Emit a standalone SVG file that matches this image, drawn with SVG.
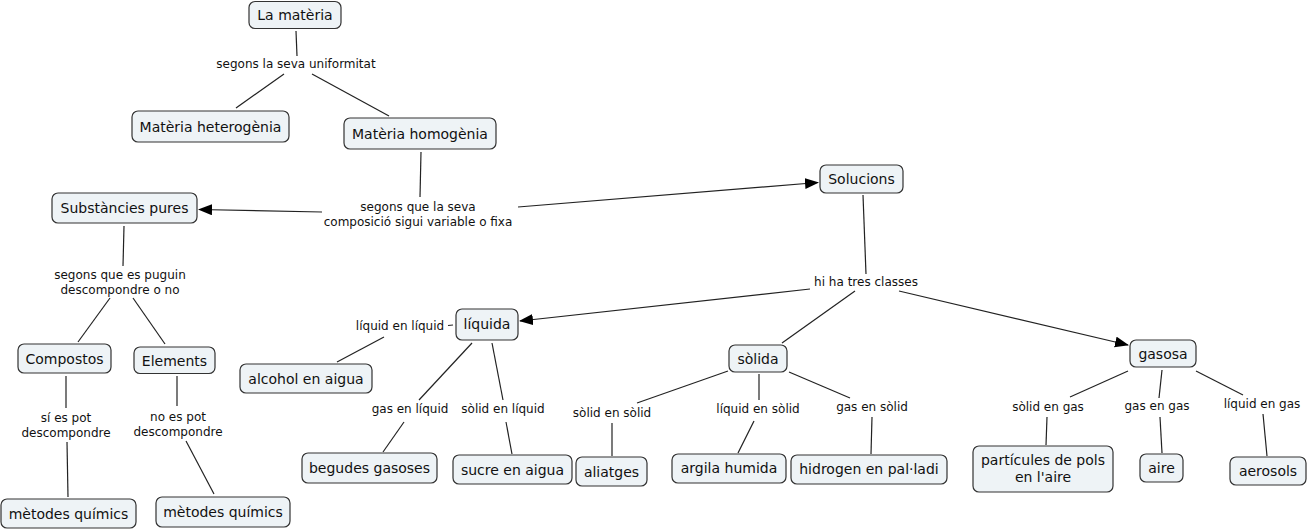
<svg xmlns="http://www.w3.org/2000/svg" width="1307" height="532" viewBox="0 0 1307 532">
<style>
.n rect{fill:#eef3f6;stroke:#333;stroke-width:1.2}
.n text{font-family:"DejaVu Sans",Verdana,sans-serif;font-size:14px;fill:#111;text-anchor:middle}
.l{font-family:"DejaVu Sans",Verdana,sans-serif;font-size:12px;fill:#111;text-anchor:middle}
#connectors line{stroke:#222;stroke-width:1.2}
</style>
<defs>
<marker id="ah" markerUnits="userSpaceOnUse" markerWidth="14" markerHeight="12" refX="13" refY="5.5" orient="auto">
<path d="M0,0 L14,5.5 L0,11 z" fill="#000"/>
</marker>
</defs>
<rect width="1307" height="532" fill="#fff"/>
<g id="connectors">
<line x1="296" y1="31" x2="297" y2="56"/>
<line x1="284" y1="74" x2="236" y2="108"/>
<line x1="312" y1="74" x2="389" y2="116"/>
<line x1="421" y1="152" x2="420" y2="197"/>
<line x1="322" y1="212" x2="199" y2="209.5" marker-end="url(#ah)"/>
<line x1="518" y1="207" x2="818" y2="182.5" marker-end="url(#ah)"/>
<line x1="124" y1="226" x2="123" y2="266"/>
<line x1="110" y1="298" x2="78" y2="342"/>
<line x1="133" y1="298" x2="165" y2="344"/>
<line x1="66" y1="376" x2="66" y2="408"/>
<line x1="67" y1="442" x2="68" y2="497"/>
<line x1="177" y1="376" x2="177" y2="406"/>
<line x1="186" y1="441" x2="214" y2="494"/>
<line x1="448" y1="325.5" x2="453" y2="325"/>
<line x1="384" y1="337" x2="337" y2="362"/>
<line x1="472" y1="343" x2="419" y2="400"/>
<line x1="404" y1="422" x2="383" y2="452"/>
<line x1="492" y1="343" x2="503" y2="400"/>
<line x1="506" y1="422" x2="512" y2="454"/>
<line x1="863" y1="195" x2="866" y2="274"/>
<line x1="810" y1="289" x2="520" y2="321" marker-end="url(#ah)"/>
<line x1="855" y1="291" x2="782" y2="343"/>
<line x1="899" y1="291" x2="1128" y2="345" marker-end="url(#ah)"/>
<line x1="728" y1="371" x2="637" y2="403"/>
<line x1="612" y1="423" x2="612" y2="456"/>
<line x1="759" y1="374" x2="759" y2="400"/>
<line x1="754" y1="421" x2="738" y2="453"/>
<line x1="789" y1="372" x2="850" y2="398"/>
<line x1="872" y1="417" x2="871" y2="454"/>
<line x1="1128" y1="371" x2="1070" y2="397"/>
<line x1="1047" y1="417" x2="1046" y2="445"/>
<line x1="1162" y1="370" x2="1159" y2="398"/>
<line x1="1160" y1="417" x2="1162" y2="453"/>
<line x1="1196" y1="371" x2="1243" y2="395"/>
<line x1="1263" y1="414" x2="1267" y2="456"/>
</g>
<g id="labels">
<text class="l" x="296" y="68">segons la seva uniformitat</text>
<text class="l" x="418" y="211">segons que la seva</text>
<text class="l" x="418" y="226">composició sigui variable o fixa</text>
<text class="l" x="120" y="279">segons que es puguin</text>
<text class="l" x="120" y="294">descompondre o no</text>
<text class="l" x="66" y="422">sí es pot</text>
<text class="l" x="66" y="437">descompondre</text>
<text class="l" x="178" y="421">no es pot</text>
<text class="l" x="178" y="436">descompondre</text>
<text class="l" x="400" y="330">líquid en líquid</text>
<text class="l" x="410" y="413">gas en líquid</text>
<text class="l" x="503" y="413">sòlid en líquid</text>
<text class="l" x="866" y="286">hi ha tres classes</text>
<text class="l" x="612" y="417">sòlid en sòlid</text>
<text class="l" x="758" y="413">líquid en sòlid</text>
<text class="l" x="872" y="411">gas en sòlid</text>
<text class="l" x="1048" y="411">sòlid en gas</text>
<text class="l" x="1157" y="410">gas en gas</text>
<text class="l" x="1262" y="408">líquid en gas</text>
</g>
<g id="n-materia" class="n"><rect x="249" y="1.5" width="92" height="27" rx="6"/><text x="295" y="20">La matèria</text></g>
<g id="n-heterogenia" class="n"><rect x="132" y="111" width="157" height="31" rx="6"/><text x="210.5" y="131.5">Matèria heterogènia</text></g>
<g id="n-homogenia" class="n"><rect x="344" y="118" width="152" height="31" rx="6"/><text x="420" y="138.5">Matèria homogènia</text></g>
<g id="n-substancies" class="n"><rect x="52" y="193" width="145" height="30" rx="6"/><text x="124.5" y="213">Substàncies pures</text></g>
<g id="n-compostos" class="n"><rect x="18" y="344" width="93" height="29" rx="6"/><text x="64.5" y="363.5">Compostos</text></g>
<g id="n-elements" class="n"><rect x="134" y="347" width="81" height="26.5" rx="6"/><text x="174.5" y="365.5">Elements</text></g>
<g id="n-metodes1" class="n"><rect x="1" y="499" width="135" height="29" rx="6"/><text x="68.5" y="518.5">mètodes químics</text></g>
<g id="n-metodes2" class="n"><rect x="156" y="497" width="134" height="30" rx="6"/><text x="223" y="516.5">mètodes químics</text></g>
<g id="n-solucions" class="n"><rect x="820" y="165" width="83" height="28" rx="6"/><text x="861.5" y="184">Solucions</text></g>
<g id="n-liquida" class="n"><rect x="456" y="309" width="62" height="31" rx="6"/><text x="487" y="329">líquida</text></g>
<g id="n-alcohol" class="n"><rect x="240" y="364" width="132" height="29" rx="6"/><text x="306" y="383.5">alcohol en aigua</text></g>
<g id="n-begudes" class="n"><rect x="302" y="453" width="135" height="30" rx="6"/><text x="369.5" y="472.5">begudes gasoses</text></g>
<g id="n-sucre" class="n"><rect x="453" y="455" width="119" height="29" rx="6"/><text x="512.5" y="474.5">sucre en aigua</text></g>
<g id="n-solida" class="n"><rect x="729" y="345" width="58" height="27" rx="6"/><text x="758" y="363.5">sòlida</text></g>
<g id="n-aliatges" class="n"><rect x="576" y="457" width="71" height="29" rx="6"/><text x="611.5" y="476.5">aliatges</text></g>
<g id="n-argila" class="n"><rect x="672" y="454" width="114" height="29" rx="6"/><text x="729" y="473">argila humida</text></g>
<g id="n-hidrogen" class="n"><rect x="791" y="455" width="156" height="29" rx="6"/><text x="869" y="474">hidrogen en pal·ladi</text></g>
<g id="n-gasosa" class="n"><rect x="1130" y="340" width="66" height="27" rx="6"/><text x="1163" y="358.5">gasosa</text></g>
<g id="n-particules" class="n"><rect x="973" y="446" width="140" height="46" rx="6"/><text x="1043" y="465">partícules de pols</text><text x="1043" y="482">en l'aire</text></g>
<g id="n-aire" class="n"><rect x="1140" y="454" width="43" height="28" rx="6"/><text x="1161.5" y="473">aire</text></g>
<g id="n-aerosols" class="n"><rect x="1230" y="457" width="76" height="28" rx="6"/><text x="1268" y="476">aerosols</text></g>
</svg>
